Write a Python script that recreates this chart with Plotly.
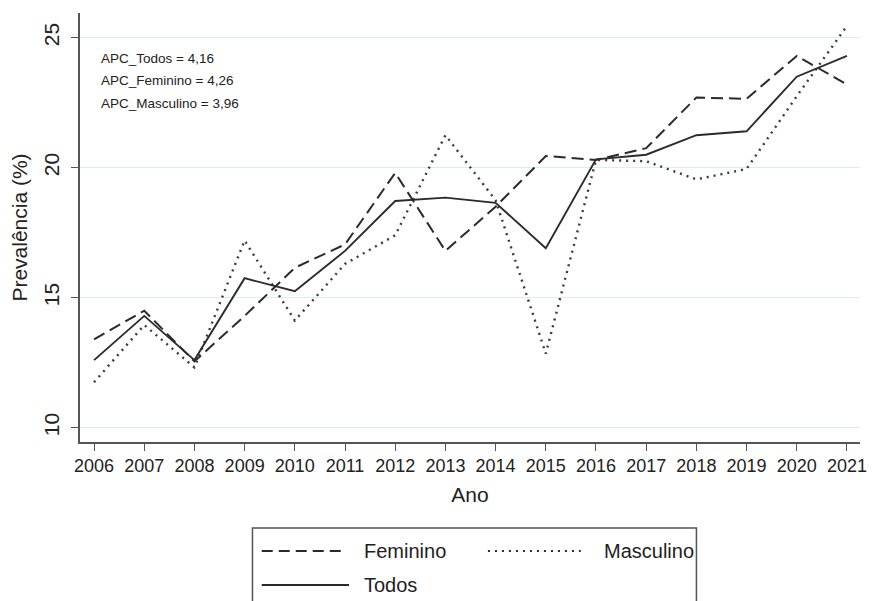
import plotly.graph_objects as go

# Prevalence (%) by year, overall and by sex
anos = list(range(2006, 2022))
todos = [12.6, 14.3, 12.6, 15.75, 15.25, 16.8, 18.72, 18.85, 18.65, 16.9,
         20.32, 20.5, 21.25, 21.4, 23.5, 24.3]
feminino = [13.4, 14.5, 12.55, 14.3, 16.15, 17.05, 19.8, 16.8, 18.5, 20.45,
            20.3, 20.75, 22.7, 22.65, 24.3, 23.2]
masculino = [11.75, 13.95, 12.32, 17.2, 14.12, 16.3, 17.4, 21.25, 18.75, 12.85,
             20.3, 20.25, 19.55, 19.95, 22.75, 25.45]

apc_labels = ["APC_Todos = 4,16", "APC_Feminino = 4,26", "APC_Masculino = 3,96"]
y_ticks = [10, 15, 20, 25]

FONT = "Liberation Sans, Arial, sans-serif"
INK = "#2b2b2b"
DASH = "12px,6px"
DOT = "2px,5px"

series = [
    ("Feminino", feminino, dict(color=INK, width=2.0, dash=DASH)),
    ("Masculino", masculino, dict(color="#3a3a3a", width=2.4, dash=DOT)),
    ("Todos", todos, dict(color=INK, width=1.9)),
]

fig = go.Figure()
for name, vals, line in series:
    fig.add_trace(go.Scatter(x=anos, y=vals, mode="lines", name=name,
                             line=line, showlegend=False))

# APC annotations in the upper-left corner of the plot
for i, txt in enumerate(apc_labels):
    fig.add_annotation(x=0.024, y=0.895 - i * 0.0535, xref="paper", yref="paper",
                       text=txt, showarrow=False, xanchor="left", yanchor="middle",
                       font=dict(family=FONT, size=13.5, color="#222222"))

# Legend box below the axis title
shapes = [dict(type="rect", xref="paper", yref="paper",
               x0=0.2211, x1=0.7903, y0=-0.40, y1=-0.2005,
               line=dict(color="#555555", width=1.5), fillcolor="white", layer="above")]

legend_rows = [
    ("Feminino", "11px,6px", 2.0, 0.233, 0.342, 0.361, 551),
    ("Masculino", DOT, 2.2, 0.523, 0.642, 0.669, 551),
    ("Todos", None, 1.9, 0.233, 0.345, 0.361, 585),
]
for label, dash, w, lx0, lx1, tx, ypix in legend_rows:
    yp = (442 - ypix) / 429
    ln = dict(color=INK, width=w)
    if dash:
        ln["dash"] = dash
    shapes.append(dict(type="line", xref="paper", yref="paper",
                       x0=lx0, x1=lx1, y0=yp, y1=yp, line=ln, layer="above"))
    fig.add_annotation(x=tx, y=yp, xref="paper", yref="paper", text=label,
                       showarrow=False, xanchor="left", yanchor="middle",
                       font=dict(family=FONT, size=20, color="#1e1e1e"))

fig.update_layout(
    width=874, height=601,
    margin=dict(l=80, r=7, t=13, b=159),
    paper_bgcolor="white", plot_bgcolor="white",
    font=dict(family=FONT, color=INK),
    shapes=shapes,
    xaxis=dict(
        range=[2005.72, 2021.26], tickmode="array", tickvals=anos,
        ticktext=[str(a) for a in anos],
        showgrid=False, zeroline=False,
        showline=True, linecolor="#555555", linewidth=1.5,
        ticks="outside", ticklen=7, tickwidth=1.3, tickcolor="#555555",
        tickfont=dict(family=FONT, size=18, color="#222222"),
        title=dict(text="Ano", font=dict(family=FONT, size=21, color="#222222"),
                   standoff=12),
    ),
    yaxis=dict(
        range=[9.45, 25.95], tickmode="array", tickvals=y_ticks,
        showgrid=True, gridcolor="#dfebee", gridwidth=1.4, zeroline=False,
        showline=True, linecolor="#555555", linewidth=1.5,
        ticks="outside", ticklen=7, tickwidth=1.3, tickcolor="#555555",
        tickangle=-90, ticklabelstandoff=4,
        tickfont=dict(family=FONT, size=21, color="#222222"),
        title=dict(text="Prevalência (%)",
                   font=dict(family=FONT, size=21, color="#222222"), standoff=6),
    ),
)

fig.write_html("out.html")
